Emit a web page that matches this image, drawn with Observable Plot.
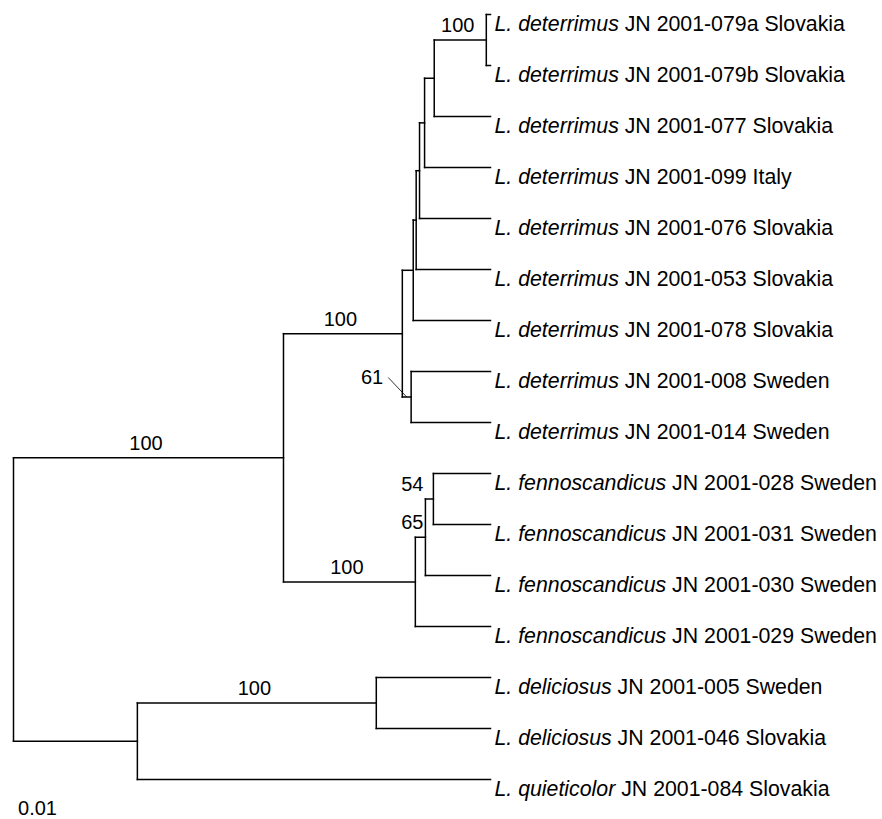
<!DOCTYPE html>
<html>
<head>
<meta charset="utf-8">
<script src="https://cdn.jsdelivr.net/npm/d3@7"></script>
<script src="https://cdn.jsdelivr.net/npm/@observablehq/plot@0.6"></script>
<style>
  body { margin: 0; background: #fff; }
  #chart svg { display: block; }
</style>
</head>
<body>
<div id="chart"></div>
<script>
// ---------------- DATA ----------------
// Leaves, top to bottom
const leafIds = ["t01","t02","t03","t04","t05","t06","t07","t08","t09","t10","t11","t12","t13","t14","t15","t16"];
const leafSpecies = [
  "L. deterrimus","L. deterrimus","L. deterrimus","L. deterrimus","L. deterrimus",
  "L. deterrimus","L. deterrimus","L. deterrimus","L. deterrimus",
  "L. fennoscandicus","L. fennoscandicus","L. fennoscandicus","L. fennoscandicus",
  "L. deliciosus","L. deliciosus","L. quieticolor"
];
const leafCodes = [
  "JN 2001-079a","JN 2001-079b","JN 2001-077","JN 2001-099","JN 2001-076",
  "JN 2001-053","JN 2001-078","JN 2001-008","JN 2001-014",
  "JN 2001-028","JN 2001-031","JN 2001-030","JN 2001-029",
  "JN 2001-005","JN 2001-046","JN 2001-084"
];
const leafOrigins = [
  "Slovakia","Slovakia","Slovakia","Italy","Slovakia",
  "Slovakia","Slovakia","Sweden","Sweden",
  "Sweden","Sweden","Sweden","Sweden",
  "Sweden","Slovakia","Slovakia"
];
const leafParents = ["N100","N100","D5","D4","D3","D2","D1","N61","N61","N54","N54","N65","F0","Del","Del","B"];
const leafDepth = 0.1136; // tips are drawn aligned

// Internal nodes: id, parent, distance from root (substitutions/site)
const nodeIds     = ["root","A","B","D0","D1","D2","D3","D4","D5","N100","N61","F0","N65","N54","Del"];
const nodeParents = [null,  "root","root","A","D0","D1","D2","D3","D4","D5","D0","A","F0","N65","B"];
const nodeDepths  = [0, 0.0643, 0.0295, 0.0926, 0.0952, 0.0959, 0.0967, 0.0979, 0.1002, 0.1126, 0.0947, 0.0957, 0.0981, 0.1000, 0.0864];

// Bootstrap support values
const bootNodes  = ["N100","D0","A","F0","N65","N54","N61","Del"];
const bootValues = [100, 100, 100, 100, 65, 54, 61, 100];

// Scale label
const scaleLength = 0.01;
const scaleLabel = "0.01";

// ---------------- TREE LAYOUT ----------------
const depthOf = new Map();
const parentOf = new Map();
const children = new Map();
nodeIds.forEach((id, i) => { depthOf.set(id, nodeDepths[i]); parentOf.set(id, nodeParents[i]); });
leafIds.forEach((id, i) => { depthOf.set(id, leafDepth); parentOf.set(id, leafParents[i]); });
for (const [id, p] of parentOf) {
  if (p) { if (!children.has(p)) children.set(p, []); children.get(p).push(id); }
}
const yOf = new Map();
leafIds.forEach((id, i) => yOf.set(id, i));
function getY(id) {
  if (yOf.has(id)) return yOf.get(id);
  const ys = children.get(id).map(getY);
  const y = (Math.min(...ys) + Math.max(...ys)) / 2;
  yOf.set(id, y);
  return y;
}
getY("root");

const segments = [];
for (const [id, p] of parentOf) {
  if (p) segments.push({x1: depthOf.get(p), x2: depthOf.get(id), y1: yOf.get(id), y2: yOf.get(id)});
}
for (const [id, ch] of children) {
  const ys = ch.map(c => yOf.get(c));
  segments.push({x1: depthOf.get(id), x2: depthOf.get(id), y1: Math.min(...ys), y2: Math.max(...ys)});
}

const leaves = leafIds.map((id, i) => ({
  x: depthOf.get(id), y: yOf.get(id),
  species: leafSpecies[i], rest: " " + leafCodes[i] + " " + leafOrigins[i],
  full: leafSpecies[i] + " " + leafCodes[i] + " " + leafOrigins[i]
}));

// bootstrap labels: default at the middle of the branch, above it
const bootMid = [], bootEnd = [], bootLeader = [];
bootNodes.forEach((id, i) => {
  const d = depthOf.get(id), pd = depthOf.get(parentOf.get(id)), y = yOf.get(id);
  const rec = {id, text: String(bootValues[i]), y, mid: (d + pd) / 2, d, pd};
  if (id === "N54" || id === "N65") { rec.x = depthOf.get("N65"); bootEnd.push(rec); }
  else if (id === "N61") bootLeader.push(rec);
  else { rec.x = rec.mid; bootMid.push(rec); }
});

// ---------------- PLOT ----------------
const W = 882, H = 819;
const xRange = [13, 490], yRange = [14, 779];
const xDomain = [0, leafDepth], yDomain = [0, leafIds.length - 1];
const xPerPx = (xDomain[1] - xDomain[0]) / (xRange[1] - xRange[0]);
const yPerPx = (yDomain[1] - yDomain[0]) / (yRange[1] - yRange[0]);

const leader = bootLeader.map(r => ({
  x1: r.mid, y1: r.y, x2: r.mid - 18.5 * xPerPx, y2: r.y - 19.5 * yPerPx, text: r.text
}));

const font = "Arial, 'Liberation Sans', sans-serif";

const chart = Plot.plot({
  width: W,
  height: H,
  marginLeft: xRange[0],
  marginRight: W - xRange[1],
  marginTop: yRange[0],
  marginBottom: H - yRange[1],
  x: {domain: xDomain, range: xRange, axis: null},
  y: {domain: yDomain, range: yRange, axis: null},
  style: {fontFamily: font, background: "#fff", color: "#000"},
  marks: [
    Plot.link(segments, {x1: "x1", y1: "y1", x2: "x2", y2: "y2", stroke: "#000", strokeWidth: 1.5, strokeLinecap: "square"}),
    Plot.link(leader, {x1: "x1", y1: "y1", x2: "x2", y2: "y2", stroke: "#000", strokeWidth: 0.8}),
    Plot.text(leader, {x: "x2", y: "y2", text: "text", textAnchor: "end", lineAnchor: "middle", dx: -5, dy: 0, fontSize: 20, fill: "#000"}),
    Plot.text(leaves, {x: "x", y: "y", text: "full", textAnchor: "start", lineAnchor: "top", dx: 4, dy: 1.5, fontSize: 21.3, fill: "#000"}),
    Plot.text(bootMid, {x: "x", y: "y", text: "text", textAnchor: "middle", lineAnchor: "middle", dx: -2.5, dy: -14.3, fontSize: 20, fill: "#000"}),
    Plot.text(bootEnd, {x: "x", y: "y", text: "text", textAnchor: "end", lineAnchor: "middle", dx: -2, dy: -14.3, fontSize: 20, fill: "#000"}),
    Plot.text([scaleLabel], {x: () => scaleLength / 2, frameAnchor: "bottom", text: d => d, textAnchor: "middle", lineAnchor: "middle", dx: 3, dy: 29, fontSize: 20, fill: "#000"})
  ]
});

// italicise the species part of each leaf label
const fullLabels = leaves.map(l => l.full);
chart.querySelectorAll("text").forEach(t => {
  const i = fullLabels.indexOf(t.textContent);
  if (i < 0) return;
  t.textContent = "";
  const ns = "http://www.w3.org/2000/svg";
  const a = document.createElementNS(ns, "tspan");
  a.setAttribute("font-style", "italic");
  a.textContent = leaves[i].species;
  const b = document.createElementNS(ns, "tspan");
  b.textContent = leaves[i].rest;
  t.setAttribute("xml:space", "preserve");
  t.appendChild(a);
  t.appendChild(b);
});

document.getElementById("chart").appendChild(chart);
</script>
</body>
</html>
